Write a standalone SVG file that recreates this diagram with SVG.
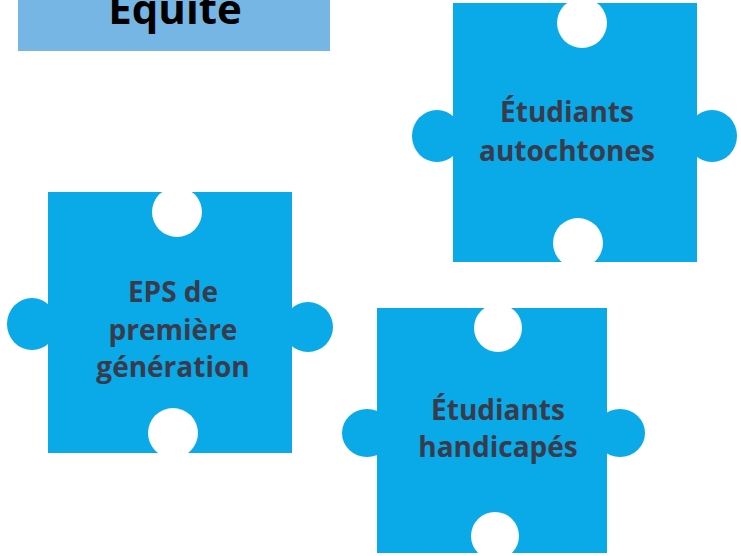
<svg xmlns="http://www.w3.org/2000/svg" width="741" height="556" viewBox="0 0 741 556">
<style>
.pc{fill:#0aa9e7}
.hole{fill:#ffffff}
.lbl{font-family:"Open Sans","Liberation Sans",sans-serif;font-weight:bold;font-size:28px;fill:#383b4c;text-anchor:middle}
.ttl{font-family:"Open Sans","Liberation Sans",sans-serif;font-weight:bold;font-size:42px;fill:#000000;text-anchor:middle}
</style>
<rect width="741" height="556" fill="#ffffff"/>
<g id="title">
<rect x="18" y="0" width="312" height="51" fill="#76b6e5"/>
<text class="ttl" x="175" y="24">Équité</text>
</g>
<g id="piece-autochtones">
<ellipse class="pc" cx="437" cy="136" rx="25" ry="26"/>
<ellipse class="pc" cx="712" cy="136" rx="25" ry="26"/>
<rect class="pc" x="453" y="3" width="244" height="259"/>
<ellipse class="hole" cx="582" cy="23" rx="25" ry="25"/>
<ellipse class="hole" cx="578" cy="243" rx="25" ry="25"/>
<text class="lbl" x="567" y="122">Étudiants</text>
<text class="lbl" x="567" y="161">autochtones</text>
</g>
<g id="piece-eps">
<ellipse class="pc" cx="32" cy="324" rx="25" ry="26"/>
<ellipse class="pc" cx="308" cy="327" rx="25" ry="25"/>
<rect class="pc" x="48" y="192" width="244" height="261"/>
<ellipse class="hole" cx="177" cy="212" rx="25" ry="25"/>
<ellipse class="hole" cx="173" cy="433" rx="25" ry="25"/>
<text class="lbl" x="173" y="302">EPS de</text>
<text class="lbl" x="173" y="339.5">première</text>
<text class="lbl" x="173" y="377">génération</text>
</g>
<g id="piece-handicapes">
<ellipse class="pc" cx="367" cy="433" rx="25" ry="24"/>
<ellipse class="pc" cx="620" cy="433" rx="25" ry="24"/>
<rect class="pc" x="377" y="308" width="230" height="245"/>
<ellipse class="hole" cx="498" cy="328" rx="24" ry="24"/>
<ellipse class="hole" cx="495" cy="536" rx="24" ry="24"/>
<text class="lbl" x="498" y="420">Étudiants</text>
<text class="lbl" x="498" y="457">handicapés</text>
</g>
<g id="connectors"></g>
</svg>
